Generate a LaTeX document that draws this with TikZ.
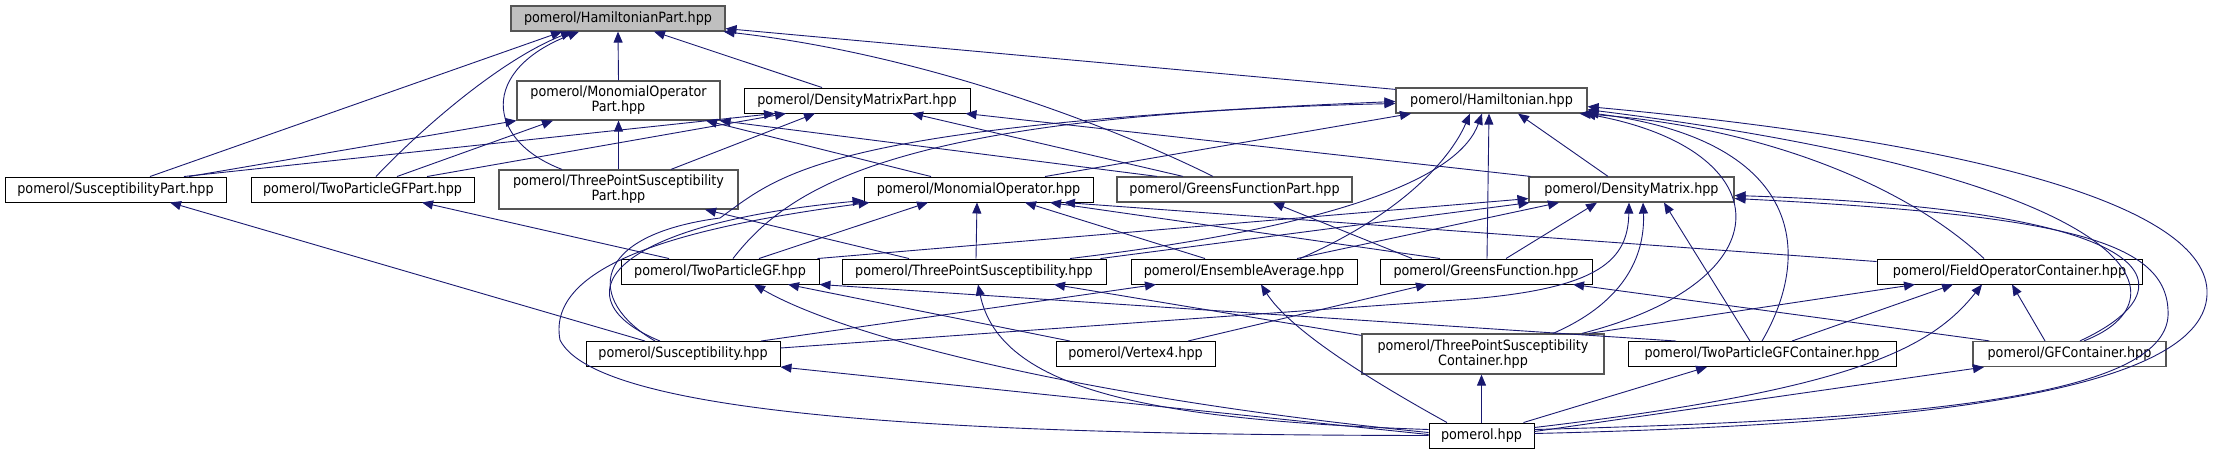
\documentclass[tikz,border=0pt]{standalone}
\usepackage{fontspec}
\setmainfont{DejaVu Sans}[FakeStretch=0.9]
\usetikzlibrary{arrows.meta}
\definecolor{edgec}{HTML}{191970}
\definecolor{rootfill}{HTML}{BFBFBF}
\definecolor{greyline}{HTML}{555555}
\begin{document}
\begin{tikzpicture}[x=1pt,y=-1pt,
  box/.style={draw=black, line width=0.95pt, fill=white, minimum height=25pt, inner sep=0pt,
              font=\fontsize{14.2}{15}\selectfont, align=center},
  gbox/.style={box, draw=greyline, line width=1.2pt},
  lnk/.style={draw=edgec, line width=0.9pt, -{Triangle[length=11pt,width=9pt]}}]
\useasboundingbox (0,0) rectangle (2222,455);

% ---------- nodes ----------
\node[gbox, fill=rootfill, minimum width=214] (HP) at (618,18.5) {pomerol/HamiltonianPart.hpp};
\node[gbox, minimum width=203, minimum height=39] (MOP) at (618.5,100.5) {pomerol/MonomialOperator\\Part.hpp};
\node[box, minimum width=226] (DMP) at (857,100.5) {pomerol/DensityMatrixPart.hpp};
\node[gbox, minimum width=191] (H) at (1491.5,100.5) {pomerol/Hamiltonian.hpp};
\node[box, minimum width=221] (SP) at (115.5,189.5) {pomerol/SusceptibilityPart.hpp};
\node[box, minimum width=223] (TPGFP) at (362.5,189.5) {pomerol/TwoParticleGFPart.hpp};
\node[gbox, minimum width=239, minimum height=39] (TPSP) at (618.5,189.5) {pomerol/ThreePointSusceptibility\\Part.hpp};
\node[box, minimum width=229] (MO) at (978.5,189.5) {pomerol/MonomialOperator.hpp};
\node[gbox, minimum width=235] (GFP) at (1234.5,189.5) {pomerol/GreensFunctionPart.hpp};
\node[gbox, minimum width=205] (DM) at (1631.5,189.5) {pomerol/DensityMatrix.hpp};
\node[box, minimum width=198] (TPGF) at (720,271.5) {pomerol/TwoParticleGF.hpp};
\node[box, minimum width=264] (TPS) at (974,271.5) {pomerol/ThreePointSusceptibility.hpp};
\node[box, minimum width=226] (EA) at (1244,271.5) {pomerol/EnsembleAverage.hpp};
\node[box, minimum width=212] (GF) at (1486,271.5) {pomerol/GreensFunction.hpp};
\node[box, minimum width=265] (FOC) at (2009.5,271.5) {pomerol/FieldOperatorContainer.hpp};
\node[box, minimum width=194] (S) at (683,354) {pomerol/Susceptibility.hpp};
\node[box, minimum width=159] (V4) at (1135.5,354) {pomerol/Vertex4.hpp};
\node[gbox, minimum width=242, minimum height=40] (TPSC) at (1483,354) {pomerol/ThreePointSusceptibility\\Container.hpp};
\node[box, minimum width=268] (TPGFC) at (1762,354) {pomerol/TwoParticleGFContainer.hpp};
\node[gbox, minimum width=193] (GFC) at (2069.5,354) {pomerol/GFContainer.hpp};
\node[box, minimum width=105] (P) at (1481.5,435.5) {pomerol.hpp};

% ---------- edges into HamiltonianPart ----------
\draw[lnk] ([xshift=34.5]SP.north) -- ([xshift=-56]HP.south);
\draw[lnk] ([xshift=13.5]TPGFP.north) .. controls (420,130) and (500,60) .. ([xshift=-46]HP.south);
\draw[lnk] ([xshift=-56.5]TPSP.north) .. controls (485,140) and (480,70) .. ([xshift=-39]HP.south);
\draw[lnk] (MOP.north) -- (HP.south);
\draw[lnk] ([xshift=-35]DMP.north) -- ([xshift=36]HP.south);
\draw[lnk] ([yshift=-2]H.north west) -- ([yshift=3]HP.south east);
\draw[lnk] ([xshift=-21.5]GFP.north) .. controls (1120,130) and (930,55) .. ([xshift=-2]HP.south east);

% ---------- edges into MonomialOperatorPart ----------
\draw[lnk] ([xshift=73.5]SP.north) -- (MOP.south west);
\draw[lnk] ([xshift=34.5]TPGFP.north) -- ([xshift=-65.5]MOP.south);
\draw[lnk] (TPSP.north) -- (MOP.south);
\draw[lnk] ([xshift=-47.5]MO.north) -- ([xshift=87.5]MOP.south);
\draw[lnk] ([xshift=-77.5]GFP.north) -- ([xshift=-1]MOP.south east);

% ---------- edges into DensityMatrixPart ----------
\draw[lnk] ([xshift=68.5]SP.north) -- ([xshift=-82]DMP.south);
\draw[lnk] ([xshift=64.5]TPGFP.north) -- ([xshift=-71]DMP.south);
\draw[lnk] ([xshift=52.5]TPSP.north) -- ([xshift=-42]DMP.south);
\draw[lnk] ([xshift=-51.5]GFP.north) -- ([xshift=55]DMP.south);
\draw[lnk] ([xshift=2]DM.north west) -- ([xshift=-5]DMP.south east);

% ---------- edges into Hamiltonian ----------
\draw[lnk] ([xshift=66.5]MO.north) -- ([xshift=-80.5]H.south);
\draw[lnk] ([xshift=-23.5]DM.north) -- ([xshift=26.5]H.south);
\draw[lnk] ([xshift=1]GF.north) -- ([xshift=-2.5]H.south);
\draw[lnk] ([xshift=56]EA.north) .. controls (1400,215) and (1450,160) .. ([xshift=-21.5]H.south);
\draw[lnk] ([xshift=96]TPS.north) .. controls (1350,225) and (1460,175) .. ([xshift=-9.5]H.south);
\draw[lnk] ([xshift=13]TPGF.north) .. controls (790,185) and (900,115) .. ([yshift=-3]H.west);
\draw[lnk] ([xshift=-28]S.north) .. controls (585,300) and (590,235) .. (720,218)
           .. controls (780,175) and (820,125) .. ([yshift=-1]H.west);
\draw[lnk] ([xshift=-25.5]FOC.north) .. controls (1900,180) and (1750,125) .. ([xshift=-8]H.south east);
\draw[lnk] ([xshift=99]TPSC.north) .. controls (1790,280) and (1780,150) .. ([xshift=-3]H.south east);
\draw[lnk] (TPGFC.north) .. controls (1815,250) and (1800,140) .. ([yshift=1]H.south east);
\draw[lnk] ([xshift=14.5]GFC.north) .. controls (2190,300) and (2150,180) .. ([yshift=4]H.south east);
\draw[lnk] ([yshift=2]P.east) .. controls (1900,425) and (2212,395) .. (2207,290)
           .. controls (2202,200) and (1950,140) .. ([yshift=7]H.south east);

% ---------- edges into DensityMatrix ----------
\draw[lnk] ([xshift=-2]TPGF.north east) -- ([yshift=4]DM.south west);
\draw[lnk] ([xshift=-6]TPS.north east) -- ([xshift=1]DM.south west);
\draw[lnk] ([xshift=53]EA.north) -- ([xshift=-72.5]DM.south);
\draw[lnk] ([xshift=20]GF.north) -- ([xshift=-34.5]DM.south);
\draw[lnk] ([yshift=6]S.east) -- (1470,299) .. controls (1600,288) and (1628,260) .. ([xshift=-2.5]DM.south);
\draw[lnk] ([xshift=70]TPSC.north) .. controls (1630,300) and (1645,250) .. ([xshift=11.5]DM.south);
\draw[lnk] ([xshift=-12]TPGFC.north) -- ([xshift=32.5]DM.south);
\draw[lnk] ([xshift=10.5]GFC.north) .. controls (2190,290) and (2180,210) .. ([yshift=-6]DM.east);
\draw[lnk] ([yshift=6]P.east) .. controls (1900,420) and (2175,400) .. (2168,310)
           .. controls (2165,240) and (2060,215) .. ([yshift=-9]DM.east);

% ---------- edges into MonomialOperator ----------
\draw[lnk] ([xshift=-23]S.north) .. controls (560,300) and (600,225) .. ([yshift=2]MO.south west);
\draw[lnk] (P.west) .. controls (1000,435) and (600,420) .. (560,340)
           .. controls (545,260) and (700,225) .. ([xshift=6]MO.south west);
\draw[lnk] ([xshift=39]TPGF.north) -- ([xshift=-50.5]MO.south);
\draw[lnk] ([xshift=2]TPS.north) -- ([xshift=-1.5]MO.south);
\draw[lnk] ([xshift=-39]EA.north) -- ([xshift=46.5]MO.south);
\draw[lnk] ([xshift=-46]GF.north) -- ([xshift=71.5]MO.south);
\draw[lnk] ([yshift=-3]FOC.north west) -- ([xshift=85.5]MO.south);

% ---------- edges into the part files ----------
\draw[lnk] ([xshift=-74]GF.north) -- ([xshift=38.5]GFP.south);
\draw[lnk] ([xshift=-38]S.north) -- ([xshift=54.5]SP.south);
\draw[lnk] ([xshift=-51]TPGF.north) -- ([xshift=59.5]TPGFP.south);
\draw[lnk] ([xshift=-65]TPS.north) -- ([xshift=86.5]TPSP.south);

% ---------- edges into TwoParticleGF / ThreePointSusceptibility ----------
\draw[lnk] ([yshift=3]P.west) .. controls (1100,400) and (850,340) .. ([xshift=34]TPGF.south);
\draw[lnk] ([xshift=-65.5]V4.north) -- ([xshift=68]TPGF.south);
\draw[lnk] ([xshift=-86]TPGFC.north) -- (TPGF.south east);
\draw[lnk] ([yshift=6]P.west) .. controls (1150,420) and (1000,390) .. ([xshift=4]TPS.south);
\draw[lnk] ([yshift=-2]TPSC.north west) -- ([xshift=80]TPS.south);

% ---------- edges into EnsembleAverage / GreensFunction ----------
\draw[lnk] ([xshift=78]S.north) -- ([xshift=-88]EA.south);
\draw[lnk] ([xshift=-34.5]P.north) .. controls (1370,380) and (1290,330) .. ([xshift=17]EA.south);
\draw[lnk] ([xshift=52.5]V4.north) -- ([xshift=-59]GF.south);
\draw[lnk] ([xshift=17]GFC.north west) -- ([xshift=87]GF.south);

% ---------- edges into FieldOperatorContainer ----------
\draw[lnk] ([xshift=106]TPSC.north) -- ([xshift=-94.5]FOC.south);
\draw[lnk] ([xshift=30]TPGFC.north) -- ([xshift=-56.5]FOC.south);
\draw[lnk] ([yshift=8]P.east) .. controls (1850,390) and (1930,350) .. ([xshift=-27.5]FOC.south);
\draw[lnk] ([xshift=-24.5]GFC.north) -- ([xshift=2.5]FOC.south);

% ---------- edges from pomerol.hpp into the containers ----------
\draw[lnk] ([xshift=-11]P.north east) -- ([xshift=-55]TPGFC.south);
\draw[lnk] ([yshift=4]P.east) -- ([xshift=-85.5]GFC.south);
\draw[lnk] (P.north) -- (P.north |- TPSC.south);
\draw[lnk] ([yshift=1]P.west) -- (S.south east);
\end{tikzpicture}
\end{document}
